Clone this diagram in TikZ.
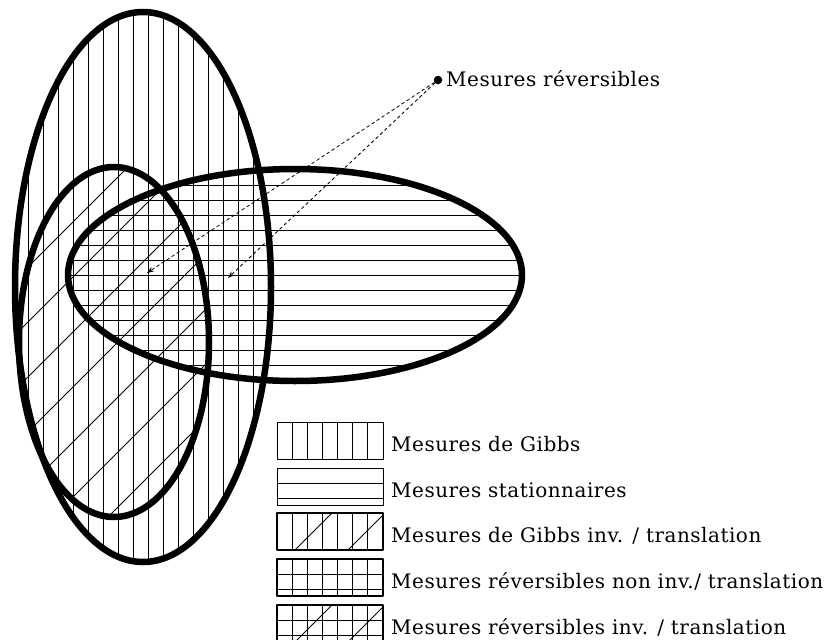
\documentclass[tikz,border=0pt]{standalone}
\usepackage{fontspec}
\setmainfont{DejaVu Serif}[LetterSpace=2.5]
\usetikzlibrary{arrows.meta}
\begin{document}
\begin{tikzpicture}[x=1pt,y=-1pt,line cap=round,line join=round,font=\fontsize{20}{24}\selectfont,
  hatch/.style={line width=0.8pt},bord/.style={line width=6.5pt},
  fleche/.style={dashed,line width=0.8pt,-{Stealth[length=7pt,width=5pt]}}]
\useasboundingbox (0,0) rectangle (833,640);
% hachures des trois ensembles
\begin{scope}
\clip (143,287) ellipse (128 and 275);
\foreach \x in {13,28,...,283} \draw[hatch] (\x,0)--(\x,600);
\end{scope}
\begin{scope}
\clip (295,275) ellipse (227 and 106);
\foreach \y in {170,185,...,380} \draw[hatch] (60,\y)--(530,\y);
\end{scope}
\begin{scope}
\clip (114,342) ellipse (95 and 175);
\foreach \c in {185,240,...,790} \draw[hatch] (\c-600,600)--(\c,0);
\end{scope}
% contours
\draw[bord] (143,287) ellipse (128 and 275);
\draw[bord] (295,275) ellipse (227 and 106);
\draw[bord] (114,342) ellipse (95 and 175);
% mesures reversibles
\node[circle,fill,inner sep=0,minimum size=8.5pt] (rev) at (438,80) {};
\node[anchor=base west,inner sep=0] (revlab) at (446,86) {Mesures réversibles};
\coordinate (revA) at (147,273);
\coordinate (revB) at (228,278);
\draw[fleche] (rev)--(revA);
\draw[fleche] (rev)--(revB);
% legende
\foreach \y/\v/\h/\d/\lw/\txt in {422/1/0/0/0.8/{Mesures de Gibbs},
  468/0/1/0/0.8/{Mesures stationnaires},
  513/1/0/1/1.6/{Mesures de Gibbs inv. / translation},
  559/1/1/0/1.6/{Mesures réversibles non inv./ translation},
  605/1/1/1/1.6/{Mesures réversibles inv. / translation}}{
  \begin{scope}
  \clip (277,\y) rectangle (383,\y+37);
  \ifnum\v=1 \foreach \x in {292,307,...,367} \draw[hatch] (\x,\y)--(\x,\y+37); \fi
  \ifnum\h=1 \foreach \k in {15,30} \draw[hatch] (277,\y+\k)--(383,\y+\k); \fi
  \ifnum\d=1 \foreach \k in {295,348} \draw[hatch] (\k,\y+37)--(\k+40,\y-3); \fi
  \end{scope}
  \draw[line width=\lw] (277,\y) rectangle (383,\y+37);
  \node[anchor=base west,inner sep=0] (leg\y) at (391,\y+29.5) {\txt};
}
\end{tikzpicture}
\end{document}
